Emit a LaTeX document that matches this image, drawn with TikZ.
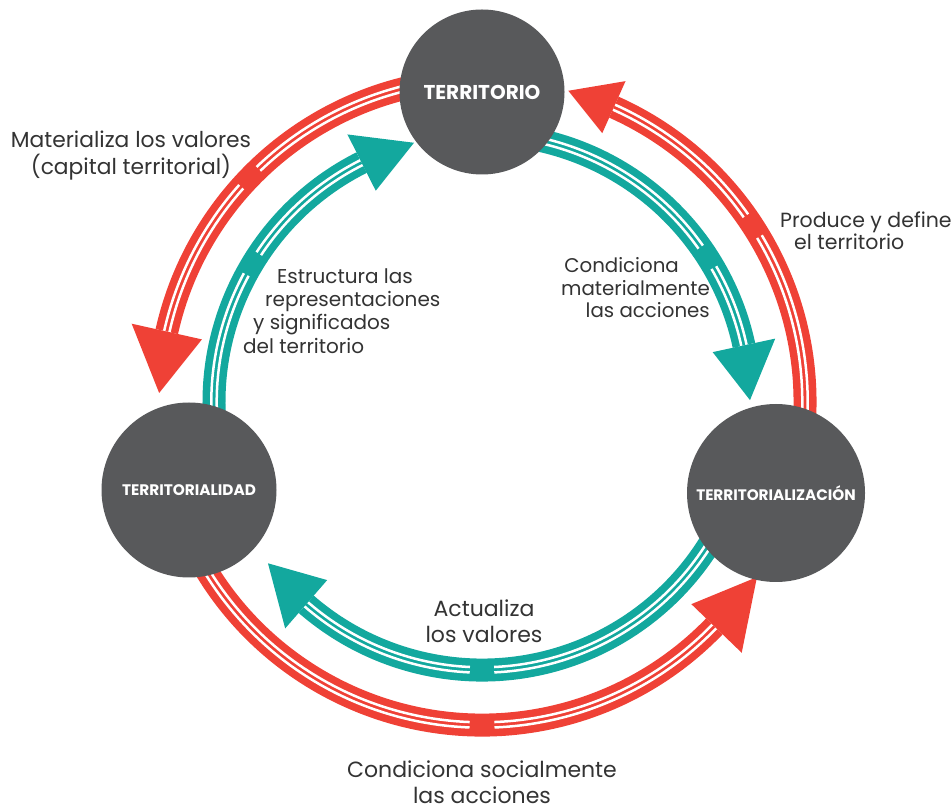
\documentclass[tikz,border=0pt]{standalone}
\usepackage{fontspec}
\setmainfont{Poppins}
\definecolor{cgray}{HTML}{58595B}
\definecolor{cred}{HTML}{EF4136}
\definecolor{cteal}{HTML}{13A89E}
\definecolor{ctxt}{HTML}{333333}
% #1 colour, #2 radius, #3 start, #4 gap begin, #5 gap end, #6 base angle, #7 tip angle, #8 head width, #9 head radius
\newcommand\bandarc[9]{%
  \pgfmathsetmacro\rin{#2-2.7}%
  \pgfmathsetmacro\rout{#2+2.7}%
  \pgfmathsetmacro\hin{#9-#8/2}%
  \pgfmathsetmacro\hout{#9+#8/2}%
  \draw[#1, line width=23pt] ([shift={(#3:#2)}]O) arc[start angle=#3, end angle=#6, radius=#2];
  \draw[white, line width=2.5pt] ([shift={(#3:\rin)}]O) arc[start angle=#3, end angle=#4, radius=\rin];
  \draw[white, line width=2.5pt] ([shift={(#3:\rout)}]O) arc[start angle=#3, end angle=#4, radius=\rout];
  \draw[white, line width=2.5pt] ([shift={(#5:\rin)}]O) arc[start angle=#5, end angle=#6, radius=\rin];
  \draw[white, line width=2.5pt] ([shift={(#5:\rout)}]O) arc[start angle=#5, end angle=#6, radius=\rout];
  \fill[#1] ([shift={(#7:#9)}]O) -- ([shift={(#6:\hout)}]O) -- ([shift={(#6:\hin)}]O) -- cycle;
}
\tikzset{
  circ/.style={circle, fill=cgray, inner sep=0pt, outer sep=0pt, text=white, font=\bfseries},
  lbl/.style={text=ctxt, inner sep=0pt},
}
\begin{document}
\begin{tikzpicture}[x=1pt,y=1pt]
\useasboundingbox (0,0) rectangle (952,811);
\coordinate (O) at (482,409);
% red arcs (outer)
\bandarc{cred}{323}{92}{133.8}{138.2}{167.4}{178.4}{72}{323}
\bandarc{cred}{323}{-12}{30.8}{35.2}{65.9}{74.5}{57}{323}
\bandarc{cred}{323}{200}{267.8}{272.2}{316}{327.5}{70}{326}
% teal arcs (inner)
\bandarc{cteal}{268}{187}{151.6}{146.4}{116.7}{104.7}{63}{268}
\bandarc{cteal}{268}{82}{35.3}{30.1}{12.2}{0.4}{64}{268}
\bandarc{cteal}{268}{345}{272.6}{267.4}{229}{217}{64}{268}
% circles
\node[circ, minimum size=165pt] (terr) at (482,719) {\fontsize{20}{20}\selectfont TERRITORIO};
\node[circ, minimum size=175pt] (terrd) at (189,321) {\fontsize{15.3}{16}\selectfont TERRITORIALIDAD};
\node[circ, minimum size=178pt] (terrz) at (776,318) {\fontsize{15.2}{16}\selectfont TERRITORIALIZACIÓN};
% labels
\node[lbl, align=center, font=\fontsize{21.8}{27}\selectfont] (l1) at (131,655) {Materializa los valores\\(capital territorial)};
\node[lbl, align=left, anchor=west, font=\fontsize{20.5}{22.5}\selectfont] (l2) at (780,580) {Produce y define\\\hspace*{14pt}el territorio};
\node[lbl, align=left, anchor=west, font=\fontsize{20}{23.2}\selectfont] (l3) at (243,500) {\hspace*{34pt}Estructura las\\\hspace*{22pt}representaciones\\\hspace*{10pt}y significados\\del territorio};
\node[lbl, align=right, anchor=east, font=\fontsize{19.8}{22.5}\selectfont] (l4) at (710,523) {Condiciona\hspace*{31pt}\\materialmente\hspace*{15pt}\\las acciones};
\node[lbl, align=center, font=\fontsize{22}{26}\selectfont] (l5) at (484,190) {Actualiza\\los valores};
\node[lbl, align=center, font=\fontsize{22}{25.5}\selectfont] (l6) at (482,29) {Condiciona socialmente\\las acciones};
\end{tikzpicture}
\end{document}
